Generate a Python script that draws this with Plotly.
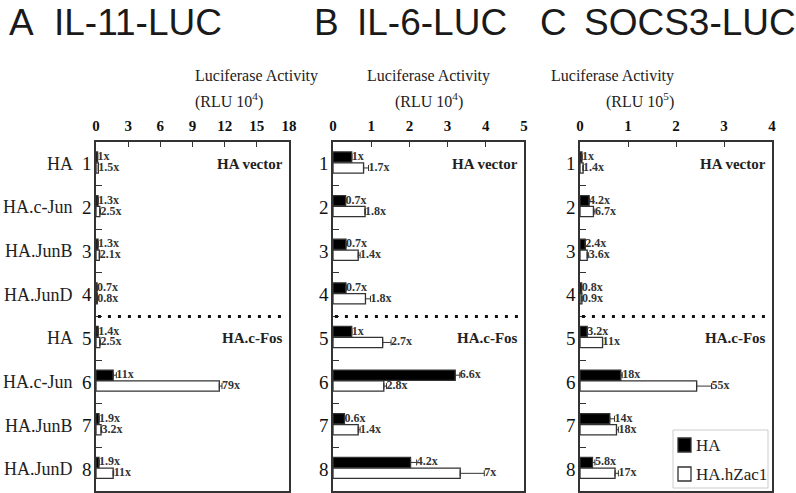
import plotly.graph_objects as go

# row setup (same for all three panels)
rows = ['1', '2', '3', '4', '5', '6', '7', '8']
names = ['HA', 'HA.c-Jun', 'HA.JunB', 'HA.JunD', 'HA', 'HA.c-Jun', 'HA.JunB', 'HA.JunD']
series = ['HA', 'HA.hZac1']

# A: IL-11-LUC (RLU 10^4)
a_ha = [0.15, 0.19, 0.19, 0.10, 0.20, 1.60, 0.28, 0.28]
a_ha_err = [0, 0, 0, 0, 0, 0.30, 0, 0]
a_zac = [0.22, 0.36, 0.31, 0.12, 0.36, 11.5, 0.47, 1.60]
a_zac_err = [0, 0.05, 0.05, 0, 0.05, 0.25, 0.05, 0.05]
a_ha_lbl = ['1x', '1.3x', '1.3x', '0.7x', '1.4x', '11x', '1.9x', '1.9x']
a_zac_lbl = ['1.5x', '2.5x', '2.1x', '0.8x', '2.5x', '79x', '3.2x', '11x']

# B: IL-6-LUC (RLU 10^4)
b_ha = [0.49, 0.33, 0.34, 0.34, 0.49, 3.20, 0.30, 2.03]
b_ha_err = [0, 0, 0, 0, 0, 0.12, 0, 0.16]
b_zac = [0.80, 0.84, 0.66, 0.85, 1.30, 1.33, 0.66, 3.33]
b_zac_err = [0.13, 0, 0.05, 0.13, 0.22, 0.07, 0.05, 0.63]
b_ha_lbl = ['1x', '0.7x', '0.7x', '0.7x', '1x', '6.6x', '0.6x', '4.2x']
b_zac_lbl = ['1.7x', '1.8x', '1.4x', '1.8x', '2.7x', '2.8x', '1.4x', '7x']

# C: SOCS3-LUC (RLU 10^5)
c_ha = [0.04, 0.19, 0.11, 0.035, 0.15, 0.85, 0.62, 0.26]
c_ha_err = [0, 0, 0, 0, 0, 0.03, 0.10, 0.05]
c_zac = [0.065, 0.28, 0.15, 0.04, 0.47, 2.43, 0.76, 0.73]
c_zac_err = [0, 0.03, 0.03, 0, 0, 0.31, 0.04, 0.07]
c_ha_lbl = ['1x', '4.2x', '2.4x', '0.8x', '3.2x', '18x', '14x', '5.8x']
c_zac_lbl = ['1.4x', '6.7x', '3.6x', '0.9x', '11x', '55x', '18x', '17x']

W, H = 796, 493
TOP, BOT = 142, 2
SERIF = 'Liberation Serif, Times New Roman, serif'
SANS = 'Liberation Sans, Arial, sans-serif'
INK = '#222'

def px(p):  # pixel column -> paper x
    return p / W

def py(p):  # pixel row -> paper y
    return (H - BOT - p) / (H - TOP - BOT)

panels = [
    ('A', 'IL-11-LUC', '4', (96, 289), 18, 3, a_ha, a_ha_err, a_zac, a_zac_err, a_ha_lbl, a_zac_lbl),
    ('B', 'IL-6-LUC', '4', (333, 524), 5, 1, b_ha, b_ha_err, b_zac, b_zac_err, b_ha_lbl, b_zac_lbl),
    ('C', 'SOCS3-LUC', '5', (580, 772), 4, 1, c_ha, c_ha_err, c_zac, c_zac_err, c_ha_lbl, c_zac_lbl),
]
title_x = {'A': (7, 52), 'B': (312, 355), 'C': (538, 582)}

ypos = list(range(len(rows)))
y_ha = [i - 0.155 for i in ypos]
y_zac = [i + 0.095 for i in ypos]
bw = 0.235

fig = go.Figure()
annos = []
shapes = []

for k, (letter, name, exp, (x0, x1), xmax, step, ha, ha_e, zac, zac_e, ha_l, zac_l) in enumerate(panels):
    xa = 'x' if k == 0 else 'x%d' % (k + 1)
    ya = 'y' if k == 0 else 'y%d' % (k + 1)
    first = k == 0
    for vals, errs, ys, fill, lbl, tname in [(ha, ha_e, y_ha, 'black', ha_l, series[0]),
                                             (zac, zac_e, y_zac, 'white', zac_l, series[1])]:
        fig.add_trace(go.Bar(
            x=vals, y=ys, orientation='h', width=bw, name=tname,
            marker=dict(color=fill, line=dict(color='#333', width=1.3)),
            error_x=dict(type='data', array=[e if e else None for e in errs],
                         arrayminus=[0] * len(errs), color='#333', thickness=1, width=3),
            xaxis=xa, yaxis=ya, showlegend=False))
        fig.add_trace(go.Scatter(
            x=[v + e for v, e in zip(vals, errs)], y=ys, mode='text', text=lbl,
            textposition='middle right',
            textfont=dict(family=SERIF, size=12, color='#333', weight='bold'),
            xaxis=xa, yaxis=ya, showlegend=False, hoverinfo='skip'))

    axkey = 'xaxis' if first else 'xaxis%d' % (k + 1)
    aykey = 'yaxis' if first else 'yaxis%d' % (k + 1)
    fig.layout[axkey] = dict(
        domain=[px(x0), px(x1)], range=[0, xmax], side='top', anchor=ya, automargin=False,
        tickvals=list(range(0, xmax + 1, step)), ticks='inside', ticklen=5,
        tickcolor='#333', showline=True, linecolor='#333', linewidth=1.5, mirror=True,
        showgrid=False, zeroline=False, ticklabelstandoff=3,
        tickfont=dict(family=SERIF, size=15, color='#111', weight='bold'))
    fig.layout[aykey] = dict(
        domain=[0, 1], range=[7.5, -0.5], anchor=xa, automargin=False,
        tickvals=ypos, ticktext=rows, ticks='', ticklabelstandoff=-1,
        minor=dict(tickvals=[i + 0.5 for i in ypos[:-1]], ticks='inside', ticklen=6,
                   tickcolor='#333'),
        showline=True, linecolor='#333', linewidth=1.5, mirror=True,
        showgrid=False, zeroline=False,
        tickfont=dict(family=SERIF, size=19, color='#111'))

    xc = px((x0 + x1) / 2)
    tx, nx = title_x[letter]
    annos += [
        dict(text=letter, x=px(tx), y=py(22), xref='paper', yref='paper', xanchor='left',
             yanchor='middle', showarrow=False, font=dict(family=SANS, size=37, color='#1a1a1a')),
        dict(text=name, x=px(nx), y=py(22), xref='paper', yref='paper', xanchor='left',
             yanchor='middle', showarrow=False, font=dict(family=SANS, size=37, color='#1a1a1a')),
        dict(text='Luciferase Activity', x=xc, y=py(76), xref='paper', yref='paper',
             yanchor='middle', showarrow=False, font=dict(family=SERIF, size=16, color=INK)),
        dict(text='(RLU 10<sup>%s</sup>)' % exp, x=xc, y=py(100), xref='paper', yref='paper',
             yanchor='middle', showarrow=False, font=dict(family=SERIF, size=16, color=INK)),
        dict(text='HA vector', x=xmax * 0.98, y=0, xref=xa, yref=ya, xanchor='right',
             showarrow=False, font=dict(family=SERIF, size=15, color=INK, weight='bold')),
        dict(text='HA.c-Fos', x=xmax * 0.98, y=4, xref=xa, yref=ya, xanchor='right',
             showarrow=False, font=dict(family=SERIF, size=15, color=INK, weight='bold')),
    ]
    # dotted separator between the HA vector and HA.c-Fos blocks
    shapes.append(dict(type='line', xref=xa, yref=ya, x0=0.01 * xmax, x1=0.99 * xmax,
                       y0=3.5, y1=3.5, line=dict(color='#111', width=3, dash='3px,7px')))

# construct names on the left of panel A
for i, nm in enumerate(names):
    annos.append(dict(text=nm, x=px(75), y=i, xref='paper', yref='y', xanchor='right',
                      showarrow=False, font=dict(family=SERIF, size=18, color=INK)))

# legend box inside panel C (drawn by hand so it sits like the original)
shapes.append(dict(type='rect', xref='paper', yref='paper', x0=px(673), x1=px(768),
                   y0=py(488), y1=py(430), line=dict(color='#ccc', width=1), fillcolor='white'))
for j, (nm, fill) in enumerate(zip(series, ['black', 'white'])):
    yc = 445 + 29 * j
    shapes.append(dict(type='rect', xref='paper', yref='paper', x0=px(678), x1=px(691),
                       y0=py(yc + 7), y1=py(yc - 7), fillcolor=fill,
                       line=dict(color='#333', width=1.3)))
    annos.append(dict(text=nm, x=px(694), y=py(yc), xref='paper', yref='paper',
                      xanchor='left', yanchor='middle', showarrow=False,
                      font=dict(family=SERIF, size=17, color=INK)))

fig.update_layout(
    width=W, height=H, margin=dict(l=0, r=0, t=TOP, b=BOT),
    paper_bgcolor='white', plot_bgcolor='white', barmode='overlay',
    annotations=annos, shapes=shapes, showlegend=False,
)

# drop the browser's default body margin so the figure sits at the window corner
fig.write_html('out.html', config={'displayModeBar': False},
               post_script="document.body.style.margin='0';")
